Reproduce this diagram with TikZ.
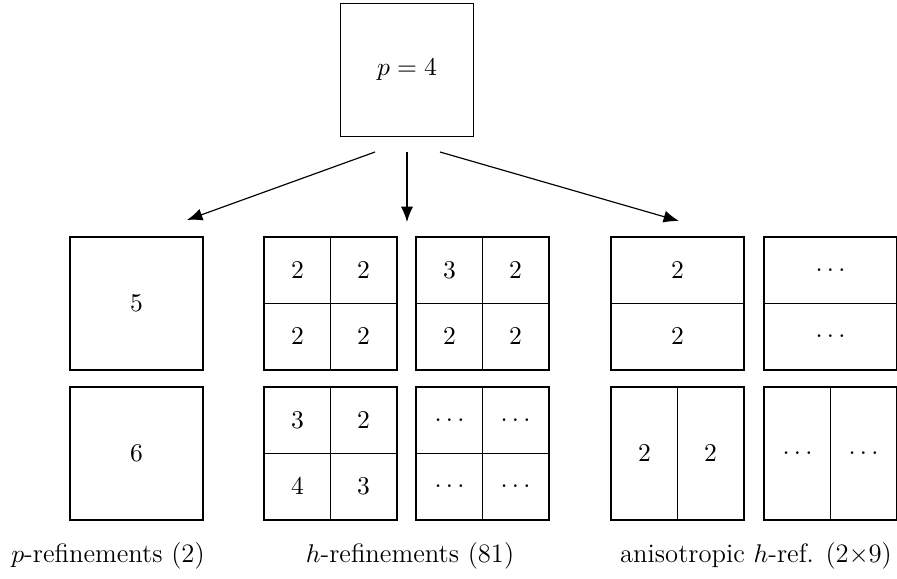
\documentclass[tikz,border=0pt]{standalone}
\usetikzlibrary{arrows.meta}
\begin{document}
\begin{tikzpicture}[x=0.015038cm,y=-0.015038cm,
  font=\fontsize{11.4}{14}\selectfont, line width=0.5pt,
  box/.style={draw, minimum size=2cm, inner sep=0pt, outer sep=0pt},
  conn/.style={-{Latex[length=6.6pt,width=5.2pt]}},
  lbl/.style={inner sep=0pt}]
\useasboundingbox (0,0) rectangle (897,578);
% top
\node[box] (top) at (407,70) {$p=4$};
% row 1
\node[box] (p5) at (136.5,303.5) {$5$};
\node[box] (h1) at (330.5,303.5) {};
\node[box] (h2) at (482.5,303.5) {};
\node[box] (a1) at (677.5,303.5) {};
\node[box] (a2) at (830.5,303.5) {};
% row 2
\node[box] (p6) at (136.5,453.5) {$6$};
\node[box] (h3) at (330.5,453.5) {};
\node[box] (h4) at (482.5,453.5) {};
\node[box] (a3) at (677.5,453.5) {};
\node[box] (a4) at (830.5,453.5) {};
% divisions
\foreach \n in {h1,h2,h3,h4}{
  \draw (\n.north) -- (\n.south);
  \draw (\n.west) -- (\n.east);
}
\foreach \n in {a1,a2}{\draw (\n.west) -- (\n.east);}
\foreach \n in {a3,a4}{\draw (\n.north) -- (\n.south);}
% cell labels
\node[lbl] at ([shift={(-33,-33)}]h1.center) {$2$};
\node[lbl] at ([shift={(33,-33)}]h1.center) {$2$};
\node[lbl] at ([shift={(-33,33)}]h1.center) {$2$};
\node[lbl] at ([shift={(33,33)}]h1.center) {$2$};
\node[lbl] at ([shift={(-33,-33)}]h2.center) {$3$};
\node[lbl] at ([shift={(33,-33)}]h2.center) {$2$};
\node[lbl] at ([shift={(-33,33)}]h2.center) {$2$};
\node[lbl] at ([shift={(33,33)}]h2.center) {$2$};
\node[lbl] at ([shift={(-33,-33)}]h3.center) {$3$};
\node[lbl] at ([shift={(33,-33)}]h3.center) {$2$};
\node[lbl] at ([shift={(-33,33)}]h3.center) {$4$};
\node[lbl] at ([shift={(33,33)}]h3.center) {$3$};
\node[lbl] at ([shift={(-33,-33)}]h4.center) {$\dots$};
\node[lbl] at ([shift={(33,-33)}]h4.center) {$\dots$};
\node[lbl] at ([shift={(-33,33)}]h4.center) {$\dots$};
\node[lbl] at ([shift={(33,33)}]h4.center) {$\dots$};
\node[lbl] at ([shift={(0,-33)}]a1.center) {$2$};
\node[lbl] at ([shift={(0,33)}]a1.center) {$2$};
\node[lbl] at ([shift={(0,-33)}]a2.center) {$\dots$};
\node[lbl] at ([shift={(0,33)}]a2.center) {$\dots$};
\node[lbl] at ([shift={(-33,0)}]a3.center) {$2$};
\node[lbl] at ([shift={(33,0)}]a3.center) {$2$};
\node[lbl] at ([shift={(-33,0)}]a4.center) {$\dots$};
\node[lbl] at ([shift={(33,0)}]a4.center) {$\dots$};
% arrows
\coordinate (s1) at (375,152);
\coordinate (s2) at (407,152);
\coordinate (s3) at (440,152);
\coordinate (e1) at (187,220);
\coordinate (e2) at (407,222);
\coordinate (e3) at (679,221);
\draw[conn] (s1) -- (e1);
\draw[conn] (s2) -- (e2);
\draw[conn] (s3) -- (e3);
% captions
\node (c1) at (108,556) {$p$-refinements (2)};
\node (c2) at (410,556) {$h$-refinements (81)};
\node (c3) at (756,556) {anisotropic $h$-ref. (2$\times$9)};
\end{tikzpicture}
\end{document}
